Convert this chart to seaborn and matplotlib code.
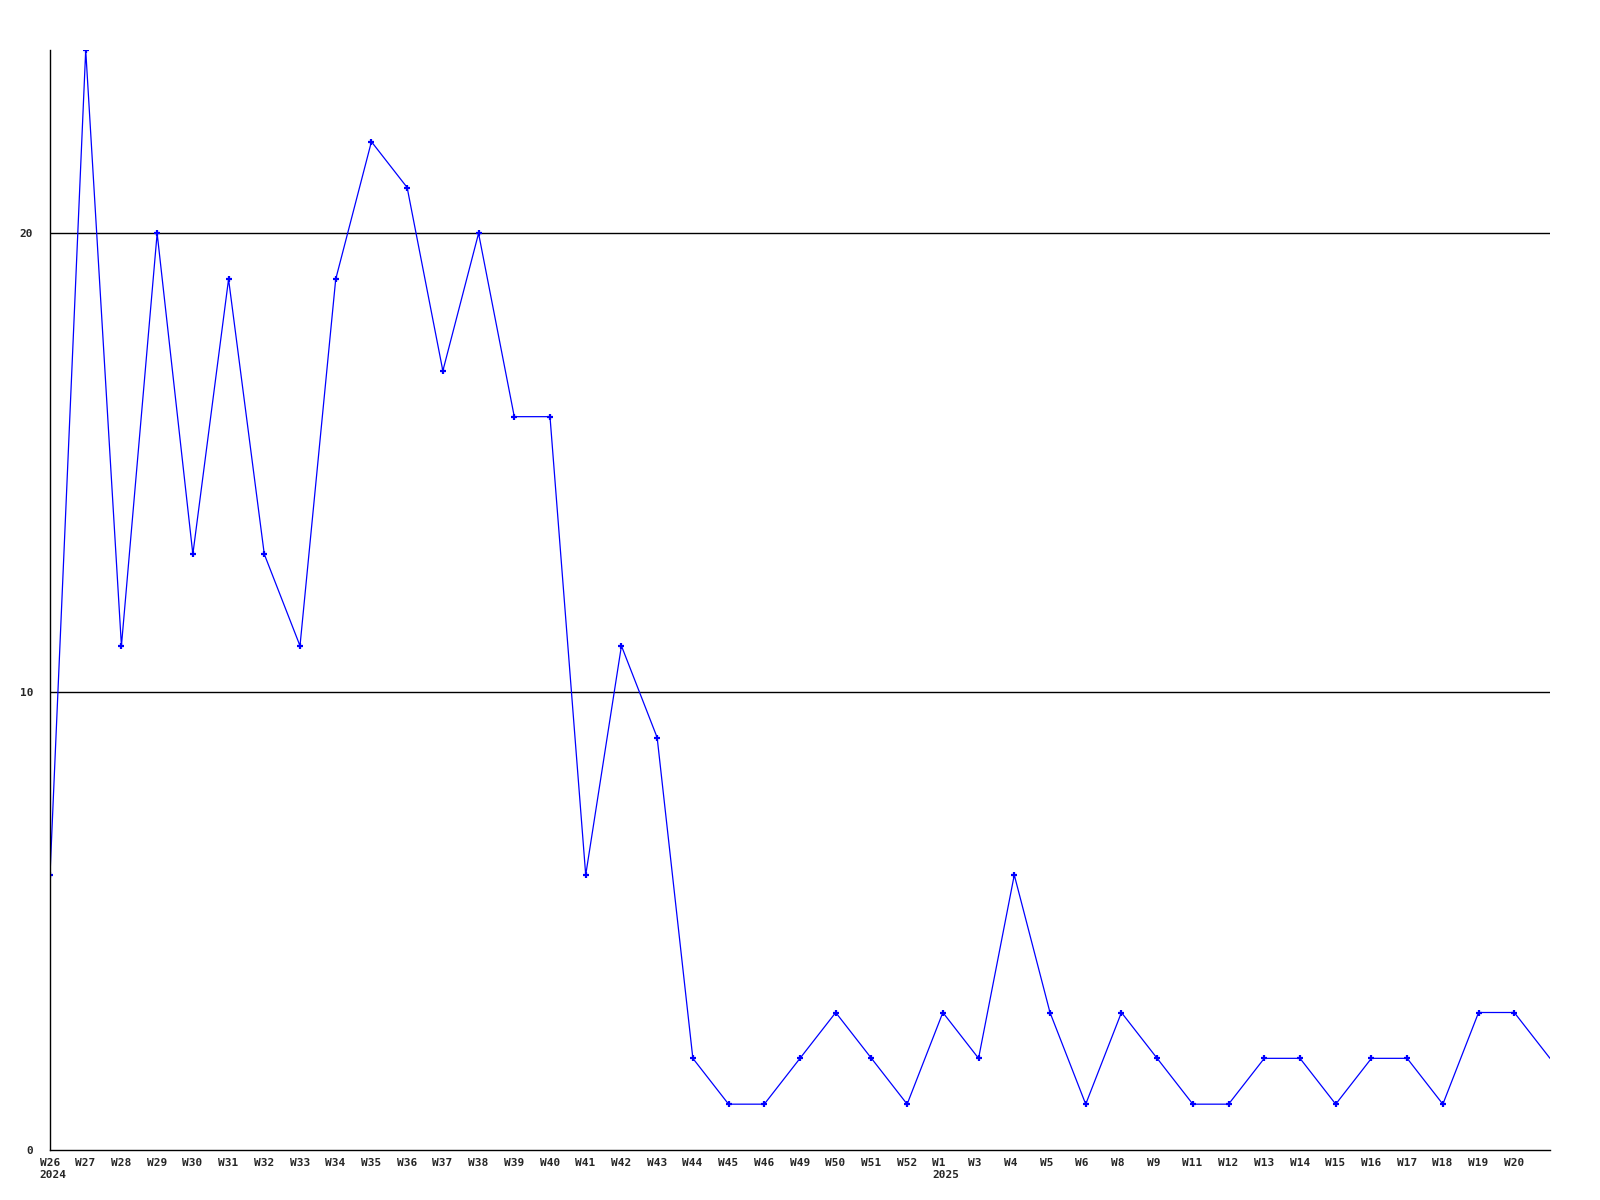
import matplotlib
matplotlib.use("Agg")
import matplotlib.pyplot as plt
import seaborn as sns
import pandas as pd

weeks = ["W26\n2024", "W27", "W28", "W29", "W30", "W31", "W32", "W33", "W34", "W35",
         "W36", "W37", "W38", "W39", "W40", "W41", "W42", "W43", "W44", "W45",
         "W46", "W49", "W50", "W51", "W52", "W1\n2025", "W3", "W4", "W5", "W6",
         "W8", "W9", "W11", "W12", "W13", "W14", "W15", "W16", "W17", "W18",
         "W19", "W20", ""]
values = [6, 24, 11, 20, 13, 19, 13, 11, 19, 22,
          21, 17, 20, 16, 16, 6, 11, 9, 2, 1,
          1, 2, 3, 2, 1, 3, 2, 6, 3, 1,
          3, 2, 1, 1, 2, 2, 1, 2, 2, 1,
          3, 3, 2]
y_ticks = [0, 10, 20]

df = pd.DataFrame({"pos": list(range(len(values))), "value": values})

sns.set_style("white")
fig = plt.figure(figsize=(16, 12), dpi=100)
ax = fig.add_axes([50/1600, 50/1200, 1500/1600, 1100/1200])

sns.lineplot(data=df, x="pos", y="value", ax=ax, color="#0000ff", linewidth=0.9,
             marker="+", markersize=4, markeredgewidth=1.6, markeredgecolor="#0000ff",
             markevery=list(range(len(values) - 1)))

for t in y_ticks[1:]:
    ax.axhline(t, color="black", linewidth=1.0, zorder=0)

ax.set_xlim(0, len(values) - 1)
ax.set_ylim(0, 24)
ax.set_xticks(list(range(len(values))))
ax.set_xticklabels([])
px = 72 / 100
for i, w in enumerate(weeks):
    ax.annotate(w, xy=(i, 0), xycoords=("data", "axes fraction"),
                xytext=(-10.5 * px, -7.5 * px), textcoords="offset points",
                ha="left", va="top", multialignment="left", linespacing=1.25,
                fontfamily="DejaVu Sans Mono", fontweight="bold", fontsize=8,
                annotation_clip=False)
ax.set_yticks(y_ticks)
ax.set_yticklabels([str(t) for t in y_ticks], fontfamily="DejaVu Sans Mono",
                   fontweight="bold", fontsize=8)
ax.tick_params(axis="x", length=0, pad=5)
ax.tick_params(axis="y", length=0, pad=12)
ax.set_xlabel("")
ax.set_ylabel("")
for s in ["top", "right"]:
    ax.spines[s].set_visible(False)
for s in ["left", "bottom"]:
    ax.spines[s].set_color("black")
    ax.spines[s].set_linewidth(1.0)

fig.savefig("out.png", dpi=100, facecolor="white")
